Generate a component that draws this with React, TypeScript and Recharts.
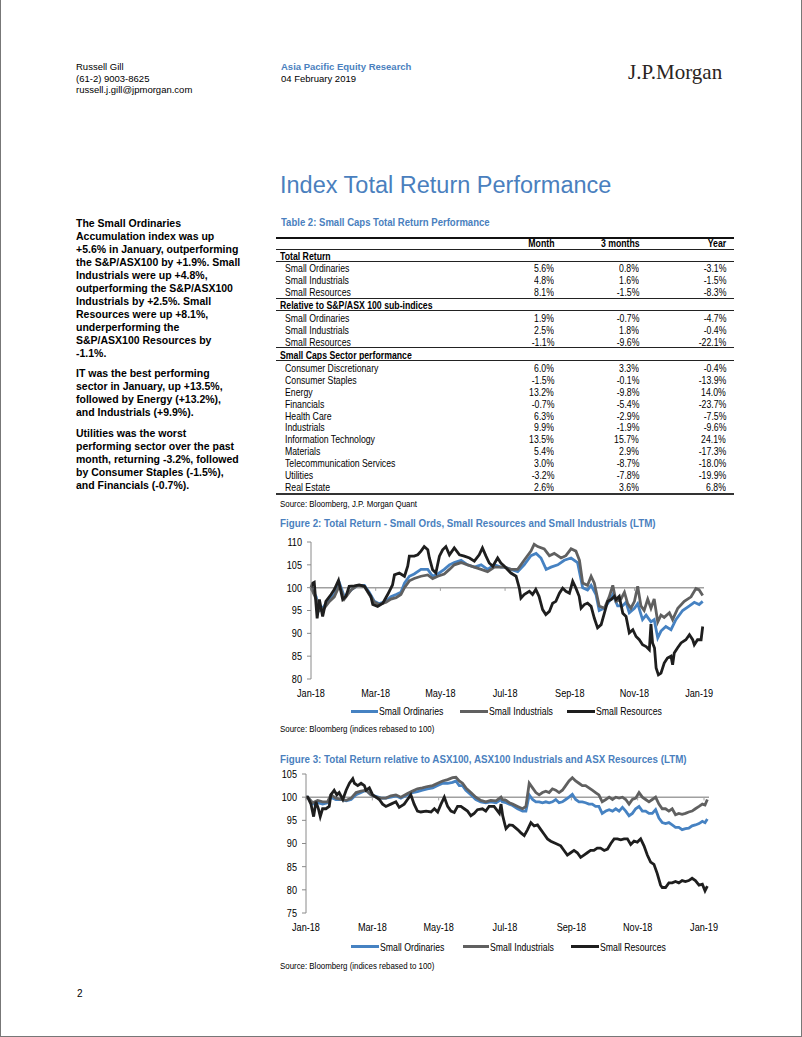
import React from 'react';
import { LineChart, Line, XAxis, YAxis, ReferenceLine } from 'recharts';

// ---------- DATA ----------
const monthTicks = [0, 2, 4, 6, 8, 10, 12];
const monthLabels = ['Jan-18', 'Mar-18', 'May-18', 'Jul-18', 'Sep-18', 'Nov-18', 'Jan-19'];
const seriesNames = ['Small Ordinaries', 'Small Industrials', 'Small Resources'];
const fig2Ticks = [80, 85, 90, 95, 100, 105, 110];
const fig3Ticks = [75, 80, 85, 90, 95, 100, 105];

// [months since start of Jan-18, index level]
const trSmallOrds: [number, number][] = [[0,100],[0.16,98],[0.26,95],[0.41,96],[0.57,97.5],[0.72,98.5],[0.88,101],[1.03,98],[1.24,99.5],[1.44,100.5],[1.65,100.5],[1.8,99],[1.96,97],[2.11,96.5],[2.32,97],[2.47,98],[2.63,98.5],[2.78,99],[2.89,101],[3.04,102.5],[3.19,103],[3.4,104],[3.61,104],[3.76,102.5],[3.92,103],[4.12,104],[4.28,105],[4.43,105.5],[4.64,106],[4.84,105],[5.05,104.5],[5.26,105],[5.46,104],[5.67,105],[5.87,104.5],[5.98,104.5],[6.18,104],[6.39,103.5],[6.59,105],[6.8,107],[6.96,107.5],[7.11,106.5],[7.27,104],[7.42,104.5],[7.63,105],[7.83,106],[8.04,106.5],[8.24,105.5],[8.4,100],[8.55,99.5],[8.66,100.5],[8.81,98.5],[8.91,95],[9.07,95.5],[9.22,97],[9.33,98.5],[9.48,96],[9.63,96],[9.74,96.8],[9.84,94.5],[10,95.5],[10.1,96.5],[10.25,93],[10.36,94],[10.51,92.5],[10.61,93],[10.72,89],[10.82,90.5],[10.97,91.5],[11.13,90.8],[11.28,93],[11.49,95],[11.7,96],[11.85,96.8],[12,96.3],[12.11,97]];
const trSmallInds: [number, number][] = [[0,100],[0.16,97.5],[0.26,95],[0.41,95.5],[0.57,97],[0.72,98],[0.88,100.5],[1.03,97.5],[1.24,99.5],[1.44,100.5],[1.65,100.3],[1.8,98.5],[1.96,96.8],[2.11,96.3],[2.32,96.8],[2.47,97.5],[2.63,97.8],[2.78,98.5],[2.89,100],[3.04,101.5],[3.19,102],[3.4,102.5],[3.61,102.8],[3.76,102],[3.92,102.5],[4.12,103],[4.28,104],[4.43,105],[4.64,105.5],[4.84,105],[5.05,104.5],[5.26,104],[5.46,103.5],[5.67,104.5],[5.87,104.5],[5.98,104.5],[6.18,104],[6.39,104],[6.59,106],[6.8,108],[6.9,109.5],[7.01,109],[7.21,108.5],[7.37,107],[7.52,107.5],[7.73,106.5],[7.88,107],[8.04,108.5],[8.19,108],[8.3,106],[8.4,101],[8.55,100.5],[8.66,102.5],[8.76,101],[8.91,96],[9.07,95.5],[9.22,98],[9.33,100.5],[9.43,97],[9.58,97.5],[9.69,99],[9.79,96.5],[9.89,95.5],[10,97],[10.1,100.3],[10.2,96],[10.3,95],[10.41,97.5],[10.51,95.5],[10.61,97.5],[10.72,92.5],[10.82,94],[10.92,93.5],[11.08,94.5],[11.18,93],[11.34,95.5],[11.54,97],[11.75,98],[11.9,99.8],[12,99.5],[12.11,98.3]];
const trSmallRes: [number, number][] = [[0,100],[0.05,101],[0.1,101.2],[0.19,93.3],[0.26,97.4],[0.36,93.7],[0.46,97],[0.62,98.5],[0.72,99.6],[0.85,101.6],[0.98,97.4],[1.08,98.1],[1.18,100.3],[1.34,100.4],[1.49,100.6],[1.65,100.3],[1.75,99.2],[1.85,98.1],[1.91,96.3],[2.06,95.9],[2.22,96.6],[2.37,98.5],[2.52,100.6],[2.58,102.8],[2.73,103.2],[2.89,102.5],[2.99,104.7],[3.04,106.9],[3.19,106.9],[3.3,107.2],[3.4,108],[3.5,109],[3.61,108.3],[3.66,106.5],[3.76,103.9],[3.86,103.2],[3.97,106.9],[4.07,108.3],[4.17,109],[4.28,107.2],[4.43,108.7],[4.59,107.2],[4.74,106.9],[4.9,106.5],[5.05,105.8],[5.2,107.2],[5.3,108.7],[5.41,106.9],[5.51,105.4],[5.62,104.7],[5.77,106.5],[5.87,105.4],[5.98,104.7],[6.18,103.2],[6.34,102.5],[6.44,99.9],[6.49,97.7],[6.59,98.5],[6.75,99.2],[6.85,98.5],[6.95,99.6],[7.05,98.1],[7.16,95.2],[7.26,94.1],[7.37,94.8],[7.47,96.6],[7.57,97],[7.68,98.8],[7.78,99.9],[7.88,99.2],[7.99,98.8],[8.09,101.4],[8.19,99.9],[8.29,98.1],[8.35,95.5],[8.45,96.3],[8.55,96.6],[8.66,95.9],[8.76,93.3],[8.86,91.2],[8.97,91.9],[9.07,94.4],[9.17,97],[9.28,97.4],[9.38,98.1],[9.43,97.4],[9.53,98.1],[9.64,94.4],[9.74,93.7],[9.84,90.1],[9.95,90.8],[10.05,89.3],[10.15,88.6],[10.25,87.5],[10.36,87.1],[10.46,86.4],[10.51,92],[10.56,87.9],[10.62,86.8],[10.67,82.4],[10.74,80.9],[10.82,81.3],[10.92,83.5],[11.02,84.6],[11.13,85],[11.18,83.1],[11.23,85.7],[11.33,86.8],[11.44,87.9],[11.59,88.6],[11.7,89.7],[11.8,88.6],[11.85,87.5],[11.95,88.6],[12.06,88.6],[12.11,91.5]];

const relSmallOrds: [number, number][] = [[0,100],[0.05,100],[0.2,98.5],[0.35,98.8],[0.5,98.5],[0.65,98.8],[0.75,100],[0.9,99.5],[1.06,99.5],[1.21,99.2],[1.36,99.5],[1.51,100.5],[1.66,101],[1.81,101.5],[1.96,100.5],[2.11,100.2],[2.26,99.8],[2.41,99.8],[2.56,100],[2.71,100.3],[2.86,99.8],[3.06,100.5],[3.21,101],[3.36,101.2],[3.51,101.5],[3.66,101.8],[3.82,102],[3.97,102.5],[4.12,103],[4.27,103],[4.42,103.2],[4.52,103.5],[4.62,102.5],[4.72,102.5],[4.82,101.5],[4.97,100.5],[5.12,99.5],[5.27,99],[5.42,98.8],[5.57,99],[5.73,98.8],[5.88,99.5],[5.92,99],[6.03,98.8],[6.13,98.5],[6.23,98.2],[6.38,97.5],[6.53,97],[6.63,97],[6.73,100.5],[6.83,99.5],[6.93,99],[7.03,99],[7.13,98.8],[7.23,99],[7.33,98.8],[7.43,99],[7.53,99.5],[7.63,98.8],[7.73,99],[7.83,99.5],[7.93,100],[8.03,100.6],[8.13,99.5],[8.23,99],[8.33,99],[8.43,98.8],[8.53,98.5],[8.63,98.5],[8.73,98],[8.83,98],[8.93,96.5],[9.04,97],[9.14,97.3],[9.24,97],[9.34,97.5],[9.44,97],[9.54,97.8],[9.64,97],[9.74,96],[9.84,96.5],[9.94,97.5],[10.04,98],[10.14,97],[10.24,97],[10.34,96.5],[10.44,96.5],[10.54,97.3],[10.64,95.5],[10.74,94.5],[10.84,94.3],[10.94,94.5],[11.04,94],[11.14,93.5],[11.24,93.5],[11.34,93],[11.44,93.2],[11.54,93.3],[11.64,93.8],[11.74,94],[11.85,94.3],[11.95,94.8],[12.03,94.5],[12.1,95.3]];
const relSmallInds: [number, number][] = [[0,100],[0.05,100],[0.2,98.8],[0.35,99.3],[0.5,99],[0.65,99],[0.75,100.5],[0.9,99.8],[1.06,99.5],[1.21,99.3],[1.36,99.8],[1.51,101],[1.66,101.3],[1.81,101.5],[1.96,100.5],[2.11,100],[2.26,99.8],[2.41,99.8],[2.56,100.3],[2.71,100.5],[2.86,100],[3.06,100.8],[3.21,101.3],[3.36,101.8],[3.51,102],[3.66,102.3],[3.82,102.5],[3.97,103],[4.12,103.5],[4.27,103.8],[4.42,104.2],[4.52,104.3],[4.62,103.5],[4.72,103],[4.82,102],[4.97,101],[5.12,100],[5.27,99.3],[5.42,99],[5.57,99.3],[5.73,99.2],[5.88,100],[5.92,99.5],[6.03,99.3],[6.13,98.8],[6.23,98.5],[6.38,98],[6.53,97.5],[6.63,98],[6.73,103],[6.83,102],[6.93,101],[7.03,100.5],[7.13,101],[7.23,101.3],[7.33,101],[7.43,101.8],[7.53,101.5],[7.63,101],[7.73,101.5],[7.83,102.5],[7.93,103.5],[8.03,104.2],[8.13,103.5],[8.23,103],[8.33,102.5],[8.43,102.5],[8.53,102],[8.63,101.5],[8.73,101],[8.83,100.5],[8.93,99],[9.04,99.5],[9.14,100],[9.24,99.5],[9.34,100],[9.44,99.8],[9.54,100],[9.64,99.5],[9.74,98.5],[9.84,99.5],[9.94,99.8],[10.04,101],[10.14,100],[10.24,99.5],[10.34,99],[10.44,99.5],[10.54,100],[10.64,98.5],[10.74,97.5],[10.84,97.5],[10.94,97],[11.04,97.5],[11.14,96.2],[11.24,96.5],[11.34,96.3],[11.44,96.5],[11.54,96.8],[11.64,97],[11.74,97.5],[11.85,98],[11.95,98.5],[12.03,98.3],[12.1,99.5]];
const relSmallRes: [number, number][] = [[0,100],[0.05,100],[0.15,98.5],[0.23,95.8],[0.3,99],[0.37,97.6],[0.43,95.8],[0.5,97.5],[0.6,97.5],[0.7,98],[0.75,100.5],[0.85,101.5],[0.93,100.5],[1,101],[1.11,99.5],[1.21,101.5],[1.31,103],[1.41,104],[1.46,103],[1.56,102.5],[1.66,103],[1.76,102.5],[1.81,101.5],[1.91,102],[2.01,100.5],[2.11,100],[2.21,99.5],[2.31,98.5],[2.41,98],[2.56,98.5],[2.71,99],[2.81,97.8],[2.96,98.5],[3.06,99.5],[3.16,100.5],[3.26,98.5],[3.36,97],[3.46,96.8],[3.62,97],[3.77,96.8],[3.87,97.5],[3.97,96.8],[4.07,98.5],[4.17,100],[4.27,98],[4.37,97],[4.47,96.7],[4.57,98],[4.67,98],[4.77,97.5],[4.87,97],[4.97,96],[5.07,96.5],[5.17,97.3],[5.32,97.5],[5.42,97],[5.52,98],[5.67,98],[5.83,96.5],[5.88,98.5],[5.93,96],[6,94],[6.03,93.2],[6.13,94],[6.23,93.9],[6.38,93],[6.48,92.3],[6.58,91.7],[6.68,93],[6.78,94.5],[6.88,93.8],[6.98,94],[7.08,93],[7.18,92],[7.28,91],[7.38,90.5],[7.53,90],[7.68,89.5],[7.78,88.5],[7.88,87.5],[7.98,88],[8.08,88.5],[8.18,88],[8.28,87],[8.38,87.5],[8.48,88],[8.58,88.5],[8.68,88.5],[8.78,89],[8.88,89],[8.99,88.5],[9.09,88.8],[9.19,90],[9.29,91],[9.39,91],[9.49,90.8],[9.59,91],[9.69,91],[9.79,89.8],[9.89,90.5],[9.99,90.3],[10.09,91],[10.19,89.5],[10.29,87.5],[10.39,86],[10.49,85.5],[10.59,83.5],[10.69,81],[10.74,80.5],[10.84,80.5],[10.94,81.5],[11.04,81.5],[11.14,81.8],[11.24,81.5],[11.34,82],[11.44,81.8],[11.54,82],[11.64,82.5],[11.74,82],[11.85,81],[11.95,81.2],[12.03,79.8],[12.1,80.8]];

// Table
const tableColumns = ['Month', '3 months', 'Year'];
const sectionTitles = ['Total Return', 'Relative to S&P/ASX 100 sub-indices', 'Small Caps Sector performance'];
const totalReturnRows = [
  ['Small Ordinaries', '5.6%', '0.8%', '-3.1%'],
  ['Small Industrials', '4.8%', '1.6%', '-1.5%'],
  ['Small Resources', '8.1%', '-1.5%', '-8.3%'],
];
const relativeRows = [
  ['Small Ordinaries', '1.9%', '-0.7%', '-4.7%'],
  ['Small Industrials', '2.5%', '1.8%', '-0.4%'],
  ['Small Resources', '-1.1%', '-9.6%', '-22.1%'],
];
const sectorRows = [
  ['Consumer Discretionary', '6.0%', '3.3%', '-0.4%'],
  ['Consumer Staples', '-1.5%', '-0.1%', '-13.9%'],
  ['Energy', '13.2%', '-9.8%', '14.0%'],
  ['Financials', '-0.7%', '-5.4%', '-23.7%'],
  ['Health Care', '6.3%', '-2.9%', '-7.5%'],
  ['Industrials', '9.9%', '-1.9%', '-9.6%'],
  ['Information Technology', '13.5%', '15.7%', '24.1%'],
  ['Materials', '5.4%', '2.9%', '-17.3%'],
  ['Telecommunication Services', '3.0%', '-8.7%', '-18.0%'],
  ['Utilities', '-3.2%', '-7.8%', '-19.9%'],
  ['Real Estate', '2.6%', '3.6%', '6.8%'],
];

const para1 = ['The Small Ordinaries', 'Accumulation index was up', '+5.6% in January, outperforming', 'the S&P/ASX100 by +1.9%. Small', 'Industrials were up +4.8%,', 'outperforming the S&P/ASX100', 'Industrials by +2.5%. Small', 'Resources were up +8.1%,', 'underperforming the', 'S&P/ASX100 Resources by', '-1.1%.'];
const para2 = ['IT was the best performing', 'sector in January, up +13.5%,', 'followed by Energy (+13.2%),', 'and Industrials (+9.9%).'];
const para3 = ['Utilities was the worst', 'performing sector over the past', 'month, returning -3.2%, followed', 'by Consumer Staples (-1.5%),', 'and Financials (-0.7%).'];

// ---------- STYLE ----------
const SANS = '"Liberation Sans", Arial, Helvetica, sans-serif';
const NARROW_SCALE = 0.83;
const BLUE_TEXT = '#4a7fbe';
const COLORS = ['#4682c2', '#606060', '#1e1e1e'];

type TProps = { x: number; y: number; size: number; text: string; bold?: boolean; color?: string; align?: 'left' | 'right'; family?: string; narrow?: boolean };
function T({ x, y, size, text, bold, color, align = 'left', family = SANS, narrow }: TProps) {
  const lh = Math.round(size * 1.3);
  const style: React.CSSProperties = {
    position: 'absolute', top: y - lh / 2, lineHeight: lh + 'px', fontSize: size, fontFamily: family,
    fontWeight: bold ? 'bold' : 'normal', color: color || '#000', whiteSpace: 'nowrap',
  };
  if (align === 'right') style.right = 802 - x; else style.left = x;
  if (narrow) {
    style.transform = `scaleX(${NARROW_SCALE})`;
    style.transformOrigin = align === 'right' ? 'right center' : 'left center';
  }
  return <div style={style}>{text}</div>;
}

function HLine({ x1, x2, y, w = 1, color = '#222' }: { x1: number; x2: number; y: number; w?: number; color?: string }) {
  return <div style={{ position: 'absolute', left: x1, top: y - w / 2, width: x2 - x1, height: w, background: color }} />;
}

const toRows = (pts: [number, number][]) => pts.map(([m, v]) => ({ m, v }));

function XTick(props: any) {
  const { x, y, payload } = props;
  return (
    <text transform={`translate(${x},${y}) scale(${NARROW_SCALE},1)`} textAnchor="middle" dy="0.71em"
      fontSize={11} fontFamily={SANS} fill="#000">
      {monthLabels[monthTicks.indexOf(payload.value)]}
    </text>
  );
}
function YTick(props: any) {
  const { x, y, payload } = props;
  return (
    <text transform={`translate(${x},${y}) scale(${NARROW_SCALE},1)`} textAnchor="end" dy="0.355em"
      fontSize={11} fontFamily={SANS} fill="#000">
      {payload.value}
    </text>
  );
}

type ChartProps = { left: number; top: number; width: number; height: number; ticks: number[]; series: [number, number][][] };
function Chart({ left, top, width, height, ticks, series }: ChartProps) {
  return (
    <div style={{ position: 'absolute', left, top }}>
      <LineChart width={width} height={height} margin={{ top: 12, right: 20, bottom: 1, left: 10 }}>
        <XAxis
          type="number" dataKey="m" domain={[0, 12.15]} ticks={monthTicks} interval={0}
          axisLine={false} tickLine={false} tickMargin={4} height={20} tick={<XTick />}
        />
        <YAxis
          type="number" domain={[ticks[0], ticks[ticks.length - 1]]} ticks={ticks} interval={0}
          width={40} tickSize={4} tickMargin={5}
          axisLine={{ stroke: '#8a8a8a' }} tickLine={{ stroke: '#8a8a8a' }} tick={<YTick />}
        />
        <ReferenceLine y={100} stroke="#a0a0a0" strokeWidth={1.5} />
        {monthTicks.map((m) => (
          <ReferenceLine key={'t' + m} segment={[{ x: m, y: 100 }, { x: m, y: 99.3 }]} stroke="#a0a0a0" />
        ))}
        {series.map((pts, i) => (
          <Line key={seriesNames[i]} name={seriesNames[i]} data={toRows(pts)} dataKey="v" type="linear"
            stroke={COLORS[i]} strokeWidth={2.8} dot={false} isAnimationActive={false} />
        ))}
      </LineChart>
    </div>
  );
}

function LegendRow({ y, items }: { y: number; items: [number, number, number][] }) {
  return (
    <>
      {items.map(([x1, x2, tx], i) => (
        <React.Fragment key={i}>
          <div style={{ position: 'absolute', left: x1, top: y - 1.5, width: x2 - x1, height: 3, background: COLORS[i] }} />
          <T x={tx} y={y} size={10.5} text={seriesNames[i]} narrow />
        </React.Fragment>
      ))}
    </>
  );
}

export default function App() {
  // table layout
  const colRight = [555, 640, 727];
  const sections = [totalReturnRows, relativeRows, sectorRows];
  const tableEls: React.ReactNode[] = [];
  let y = 255.7;
  sections.forEach((rows, si) => {
    tableEls.push(<T key={'s' + si} x={279} y={y} size={10.5} bold text={sectionTitles[si]} narrow />);
    tableEls.push(<HLine key={'sl' + si} x1={275} x2={733} y={y + 5.3} />);
    y += 12.6;
    rows.forEach((r, ri) => {
      tableEls.push(<T key={`r${si}-${ri}`} x={284} y={y} size={10.5} text={r[0]} narrow />);
      r.slice(1).forEach((val, ci) => {
        tableEls.push(<T key={`v${si}-${ri}-${ci}`} x={colRight[ci]} y={y} size={10.5} text={val} align="right" narrow />);
      });
      if (ri < rows.length - 1) y += 11.95;
    });
    if (si < sections.length - 1) {
      tableEls.push(<HLine key={'se' + si} x1={275} x2={733} y={y + 5.8} />);
      y += 13.2;
    } else {
      tableEls.push(<HLine key="bottom" x1={275} x2={733} y={y + 6.8} w={2} color="#333" />);
    }
  });

  return (
    <div style={{ position: 'absolute', left: 0, top: 0, width: 802, height: 1037, background: '#fff', boxSizing: 'border-box', borderLeft: '1px solid #777', borderRight: '1px solid #777', borderBottom: '1px solid #777', overflow: 'hidden' }}>
      {/* header */}
      <T x={75} y={67} size={9.5} text="Russell Gill" />
      <T x={75} y={78.5} size={9.5} text="(61-2) 9003-8625" />
      <T x={75} y={90} size={9.5} text="russell.j.gill@jpmorgan.com" />
      <T x={280} y={67} size={9.5} bold color={BLUE_TEXT} text="Asia Pacific Equity Research" />
      <T x={280} y={78.5} size={9.5} text="04 February 2019" />
      <T x={627} y={72} size={21} text="J.P.Morgan" color="#2a2422" family='"Liberation Serif", "DejaVu Serif", serif' />

      <T x={279} y={185.5} size={23.5} text="Index Total Return Performance" color={BLUE_TEXT} />

      {/* left column */}
      {para1.map((l, i) => <T key={'p1' + i} x={75} y={222.7 + i * 13} size={10.5} bold text={l} />)}
      {para2.map((l, i) => <T key={'p2' + i} x={75} y={373.3 + i * 13} size={10.5} bold text={l} />)}
      {para3.map((l, i) => <T key={'p3' + i} x={75} y={433.3 + i * 13} size={10.5} bold text={l} />)}

      {/* table */}
      <T x={280} y={222} size={11.5} bold color={BLUE_TEXT} text="Table 2: Small Caps Total Return Performance" narrow />
      <HLine x1={275} x2={733} y={238.3} w={2} color="#111" />
      {tableColumns.map((c, i) => <T key={c} x={colRight[i] + (i === 1 ? 1 : 0)} y={243.3} size={10.5} bold text={c} align="right" narrow />)}
      <HLine x1={275} x2={733} y={249} />
      {tableEls}
      <T x={279} y={504} size={9.5} text="Source: Bloomberg, J.P. Morgan Quant" narrow />

      {/* Figure 2 */}
      <T x={279} y={523.3} size={11.8} bold color={BLUE_TEXT} text="Figure 2: Total Return - Small Ords, Small Resources and Small Industrials (LTM)" narrow />
      <Chart left={260} top={530} width={463} height={170} ticks={fig2Ticks} series={[trSmallOrds, trSmallInds, trSmallRes]} />
      <LegendRow y={711} items={[[350, 377, 378], [459, 487, 488], [566, 594, 595]]} />
      <T x={279} y={729} size={9.5} text="Source: Bloomberg (indices rebased to 100)" narrow />

      {/* Figure 3 */}
      <T x={279} y={759} size={11.8} bold color={BLUE_TEXT} text="Figure 3: Total Return relative to ASX100, ASX100 Industrials and ASX Resources (LTM)" narrow />
      <Chart left={255} top={762} width={473} height={172} ticks={fig3Ticks} series={[relSmallOrds, relSmallInds, relSmallRes]} />
      <LegendRow y={946.7} items={[[350, 378, 379], [462, 488, 489], [570, 598, 599]]} />
      <T x={279} y={965.7} size={9.5} text="Source: Bloomberg (indices rebased to 100)" narrow />

      <T x={76} y={993.3} size={10} text="2" />
    </div>
  );
}
